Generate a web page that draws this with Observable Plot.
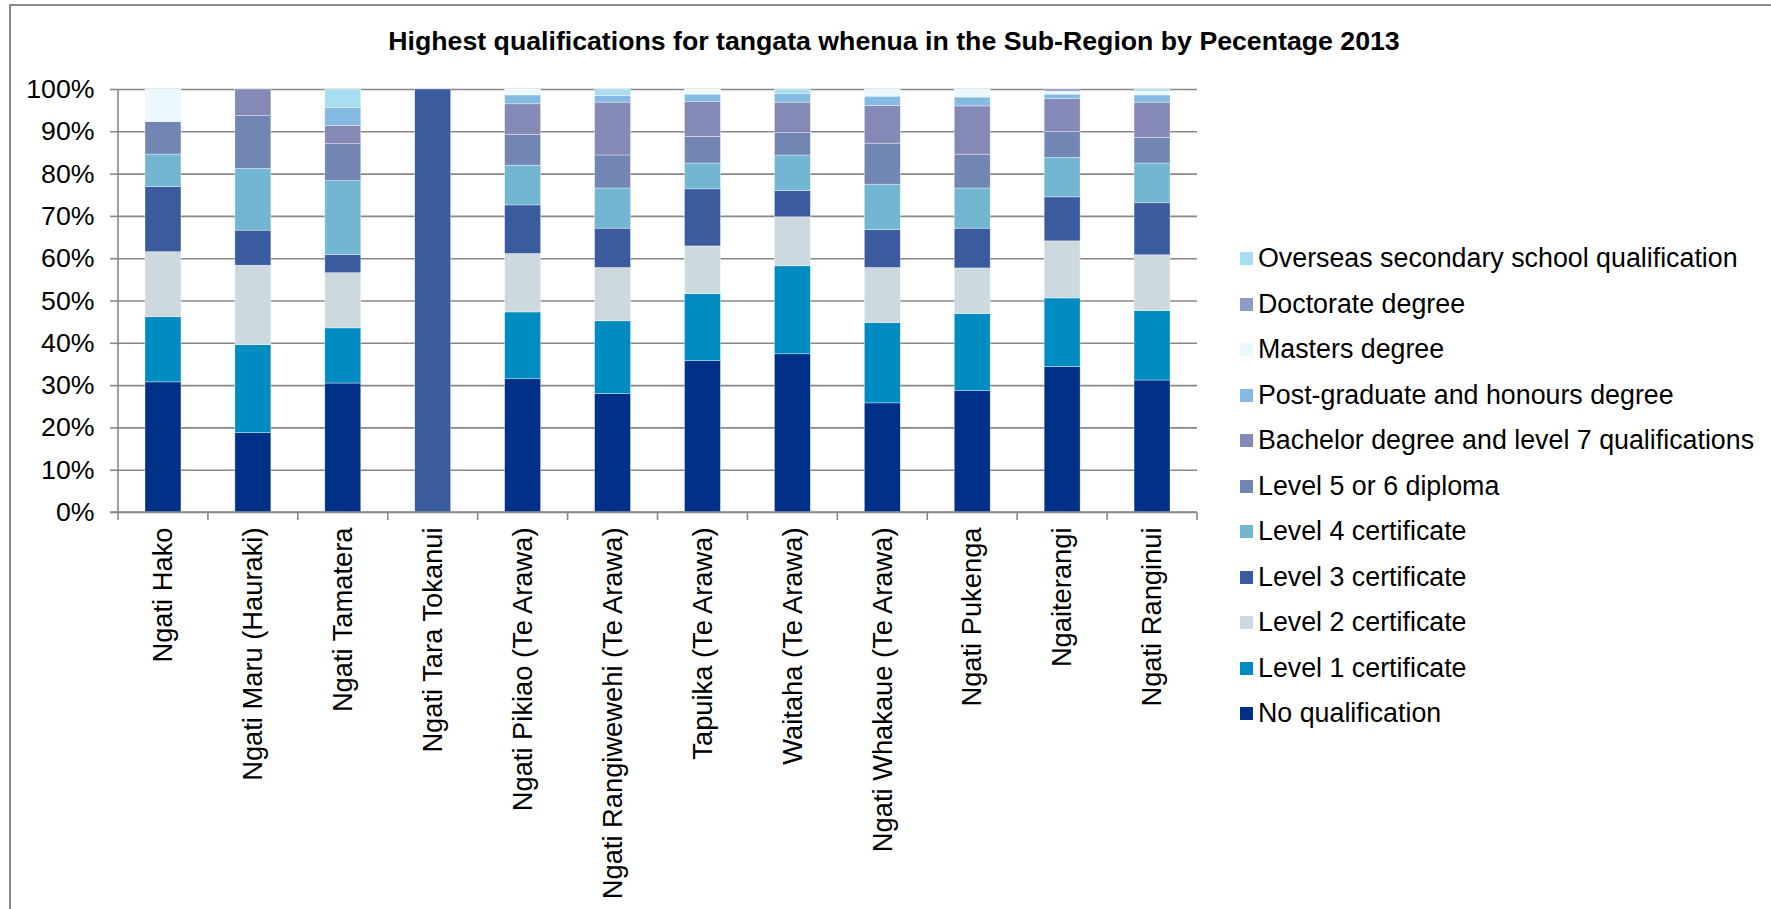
<!DOCTYPE html>
<html>
<head>
<meta charset="utf-8">
<script src="https://cdn.jsdelivr.net/npm/d3@7"></script>
<script src="https://cdn.jsdelivr.net/npm/@observablehq/plot@0.6"></script>
<style>
  html, body { margin: 0; padding: 0; background: #fff; }
  #wrap { position: relative; width: 1771px; height: 909px; overflow: hidden; font-family: "Liberation Sans", Arial, sans-serif; color: #000; }
  #border { position: absolute; left: 9px; top: 4px; right: -10px; bottom: -10px; border: 2px solid #8a8a8a; }
  #title { position: absolute; left: 0; width: 1788px; top: 28px; text-align: center; font-weight: bold; font-size: 26.7px; line-height: 26px; white-space: nowrap; }
  #chart { position: absolute; left: 0; top: 0; }
  #legend { position: absolute; left: 1240px; top: 236px; }
  .row { display: flex; align-items: center; height: 45.5px; font-size: 26.8px; white-space: nowrap; }
  .sw { width: 13px; height: 13px; margin-right: 5px; flex: none; }
</style>
</head>
<body>
<div id="wrap">
  <div id="border"></div>
  <div id="chart"></div>
  <div id="title"></div>
  <div id="legend"></div>
</div>
<script>
const titleText = "Highest qualifications for tangata whenua in the Sub-Region by Pecentage 2013";

const tribes = [
  "Ngati Hako", "Ngati Maru (Hauraki)", "Ngati Tamatera", "Ngati Tara Tokanui",
  "Ngati Pikiao (Te Arawa)", "Ngati Rangiwewehi (Te Arawa)", "Tapuika (Te Arawa)",
  "Waitaha (Te Arawa)", "Ngati Whakaue (Te Arawa)", "Ngati Pukenga", "Ngaiterangi", "Ngati Ranginui"
];

const series = [
  "No qualification", "Level 1 certificate", "Level 2 certificate", "Level 3 certificate",
  "Level 4 certificate", "Level 5 or 6 diploma", "Bachelor degree and level 7 qualifications",
  "Post-graduate and honours degree", "Masters degree", "Doctorate degree",
  "Overseas secondary school qualification"
];

const colors = [
  "#003087", "#008cc1", "#ccdae0", "#3a5b9d", "#72b6d1", "#7186b2",
  "#8589b5", "#85bae3", "#ebf8fd", "#8e9bc9", "#a9ddf1"
];

// percentages per tribe (same order as tribes)
const noQualification = [30.8, 18.8, 30.4, 0, 31.5, 28.0, 35.8, 37.4, 25.8, 28.7, 34.4, 31.2];
const level1 = [15.4, 20.8, 13.0, 0, 15.8, 17.2, 15.8, 20.8, 19.0, 18.2, 16.2, 16.4];
const level2 = [15.4, 18.8, 13.0, 0, 13.8, 12.6, 11.3, 11.6, 13.0, 10.8, 13.5, 13.2];
const level3 = [15.4, 8.3, 4.3, 100, 11.5, 9.3, 13.5, 6.2, 9.0, 9.4, 10.4, 12.3];
const level4 = [7.7, 14.6, 17.4, 0, 9.4, 9.5, 6.1, 8.4, 10.7, 9.5, 9.3, 9.4];
const level56 = [7.7, 12.5, 8.7, 0, 7.3, 7.8, 6.3, 5.3, 9.7, 8.0, 6.2, 6.1];
const bachelor = [0, 6.3, 4.3, 0, 7.2, 12.5, 8.2, 7.2, 8.9, 11.4, 7.7, 8.3];
const postgrad = [0, 0, 4.3, 0, 2.1, 1.6, 1.8, 2.1, 2.2, 2.1, 1.1, 1.7];
const masters = [7.7, 0, 0, 0, 1.4, 0, 1.2, 0, 1.7, 1.9, 0.7, 0.9];
const doctorate = [0, 0, 0, 0, 0, 0, 0, 0, 0, 0, 0.5, 0];
const overseas = [0, 0, 4.3, 0, 0, 1.5, 0, 1.0, 0, 0, 0, 0.5];

const seriesValues = [noQualification, level1, level2, level3, level4, level56, bachelor, postgrad, masters, doctorate, overseas];
const yTicks = [0, 1, 2, 3, 4, 5, 6, 7, 8, 9, 10].map(i => i / 10);

const rows = [];
series.forEach((s, si) => {
  tribes.forEach((t, ti) => {
    rows.push({tribe: t, series: s, value: seriesValues[si][ti]});
  });
});

const W = 1771, H = 909;
const mL = 118, mR = 574, mT = 89, mB = 397;
const gray = "#878787";

const plot = Plot.plot({
  width: W,
  height: H,
  marginLeft: mL,
  marginRight: mR,
  marginTop: mT,
  marginBottom: mB,
  style: {fontFamily: "Liberation Sans, Arial, sans-serif", color: "#000", background: "transparent", overflow: "visible"},
  x: {domain: tribes, paddingInner: 0.6, paddingOuter: 0.3, round: false, label: null},
  y: {domain: [0, 1], label: null},
  color: {domain: series, range: colors},
  marks: [
    Plot.gridY(yTicks, {stroke: gray, strokeOpacity: 1, strokeWidth: 1.6}),
    Plot.barY(rows, Plot.stackY({
      x: "tribe", y: "value", fill: "series", order: series, offset: "normalize",
      stroke: "#ffffff", strokeWidth: 0.6, strokeOpacity: 0.6
    })),
    Plot.axisY(yTicks, {
      tickFormat: d3.format(".0%"), tickSize: 8, tickPadding: 16, fontSize: 26.7,
      stroke: gray, strokeWidth: 1.6, fill: "#000", label: null
    }),
    Plot.axisX({
      tickRotate: -90, tickSize: 0, tickPadding: 15, fontSize: 27.3, fill: "#000", label: null
    })
  ]
});

document.getElementById("chart").appendChild(plot);

// axis lines and category boundary ticks, placed through Plot's x scale
const xs = plot.scale("x");
const step = xs.step;
const svg = d3.select(plot);
const g = svg.append("g").attr("stroke", gray).attr("stroke-width", 1.6);
const y0 = H - mB;
g.append("line").attr("x1", mL).attr("x2", mL).attr("y1", mT).attr("y2", y0);
g.append("line").attr("x1", mL - 8).attr("x2", W - mR).attr("y1", y0).attr("y2", y0);
const bounds = tribes.map(t => xs.apply(t) - step * 0.3).concat([xs.apply(tribes[tribes.length - 1]) - step * 0.3 + step]);
bounds.forEach(bx => {
  g.append("line").attr("x1", bx).attr("x2", bx).attr("y1", y0).attr("y2", y0 + 8);
});

document.getElementById("title").textContent = titleText;

const legend = document.getElementById("legend");
series.slice().reverse().forEach(s => {
  const row = document.createElement("div");
  row.className = "row";
  const sw = document.createElement("div");
  sw.className = "sw";
  sw.style.background = colors[series.indexOf(s)];
  const tx = document.createElement("span");
  tx.textContent = s;
  row.appendChild(sw);
  row.appendChild(tx);
  legend.appendChild(row);
});
</script>
</body>
</html>
